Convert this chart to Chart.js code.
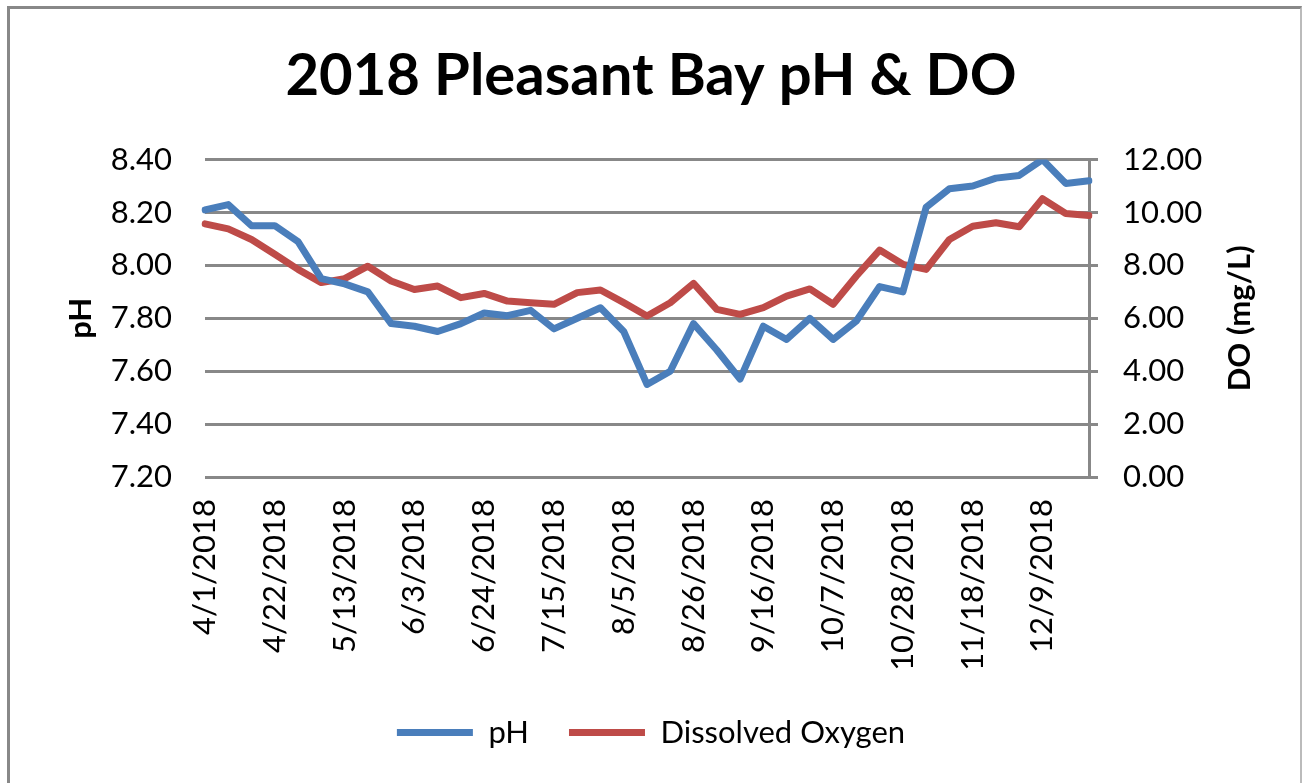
<!DOCTYPE html>
<html lang="en">
<head>
    <meta charset="UTF-8">
    <title>2018 Pleasant Bay pH &amp; DO</title>
    <style>
        body {
            margin: 0;
            padding: 0;
            background: #fff;
            overflow: hidden;
        }
        .wrap {
            position: absolute;
            left: 0;
            top: 0;
            width: 1302px;
            height: 783px;
        }
        .frame {
            position: absolute;
            left: 7px;
            top: 6px;
            width: 1290px;
            height: 820px;
            border-left: 3px solid #888;
            border-top: 3px solid #888;
            border-right: 2px solid #bbb;
            pointer-events: none;
        }
    </style>
</head>
<body>
    <div class="wrap">
        <canvas id="phChart"></canvas>
    </div>
    <div class="frame"></div>
    <script src="https://cdn.jsdelivr.net/npm/chart.js"></script>
    <script>
        const dates = [
            '4/1/2018', '4/8/2018', '4/15/2018', '4/22/2018', '4/29/2018',
            '5/6/2018', '5/13/2018', '5/20/2018', '5/27/2018',
            '6/3/2018', '6/10/2018', '6/17/2018', '6/24/2018',
            '7/1/2018', '7/8/2018', '7/15/2018', '7/22/2018', '7/29/2018',
            '8/5/2018', '8/12/2018', '8/19/2018', '8/26/2018',
            '9/2/2018', '9/9/2018', '9/16/2018', '9/23/2018', '9/30/2018',
            '10/7/2018', '10/14/2018', '10/21/2018', '10/28/2018',
            '11/4/2018', '11/11/2018', '11/18/2018', '11/25/2018',
            '12/2/2018', '12/9/2018', '12/16/2018', '12/23/2018'
        ];

        const phValues = [
            8.21, 8.23, 8.15, 8.15, 8.09, 7.95, 7.93, 7.90, 7.78,
            7.77, 7.75, 7.78, 7.82, 7.81, 7.83, 7.76, 7.80, 7.84,
            7.75, 7.55, 7.60, 7.78, 7.68, 7.57, 7.77, 7.72, 7.80,
            7.72, 7.79, 7.92, 7.90, 8.22, 8.29, 8.30, 8.33, 8.34,
            8.40, 8.31, 8.32
        ];

        const doValues = [
            9.57, 9.38, 8.98, 8.42, 7.85, 7.35, 7.50, 7.97, 7.41,
            7.09, 7.22, 6.78, 6.94, 6.65, 6.59, 6.53, 6.97, 7.07,
            6.59, 6.09, 6.59, 7.32, 6.34, 6.15, 6.40, 6.84, 7.11,
            6.53, 7.60, 8.58, 8.04, 7.85, 8.98, 9.48, 9.61, 9.46,
            10.52, 9.96, 9.89
        ];

        const phTicks = [7.2, 8.4, 0.2];   // min, max, step
        const doTicks = [0, 12, 2];

        const fontFamily = 'Lato, "Open Sans", sans-serif';

        // axis titles drawn reading bottom-to-top on both sides
        const axisTitles = {
            id: 'axisTitles',
            afterDraw(chart) {
                const ctx = chart.ctx;
                const area = chart.chartArea;
                const midY = (area.top + area.bottom) / 2;
                ctx.save();
                ctx.fillStyle = '#000';
                ctx.font = 'bold 31px ' + fontFamily;
                ctx.textAlign = 'center';
                ctx.textBaseline = 'middle';
                [['pH', chart.scales.y.left + 81], ['DO (mg/L)', chart.scales.y1.right - 62]].forEach(([text, x]) => {
                    ctx.save();
                    ctx.translate(x, midY);
                    ctx.rotate(-Math.PI / 2);
                    ctx.fillText(text, 0, 0);
                    ctx.restore();
                });
                ctx.restore();
            }
        };

        const ctx = document.getElementById('phChart').getContext('2d');
        new Chart(ctx, {
            type: 'line',
            data: {
                labels: dates,
                datasets: [{
                    label: 'pH',
                    data: phValues,
                    yAxisID: 'y',
                    borderColor: '#4a7ebb',
                    backgroundColor: '#4a7ebb',
                    borderWidth: 7,
                    borderJoinStyle: 'round',
                    borderCapStyle: 'round',
                    pointRadius: 0,
                    pointStyle: 'line',
                    tension: 0
                }, {
                    label: 'Dissolved Oxygen',
                    data: doValues,
                    yAxisID: 'y1',
                    borderColor: '#be4b48',
                    backgroundColor: '#be4b48',
                    borderWidth: 7,
                    borderJoinStyle: 'round',
                    borderCapStyle: 'round',
                    pointRadius: 0,
                    pointStyle: 'line',
                    tension: 0
                }]
            },
            options: {
                responsive: true,
                maintainAspectRatio: false,
                animation: false,
                layout: {
                    padding: { top: 0, left: 0, right: 0, bottom: 25 }
                },
                plugins: {
                    title: {
                        display: true,
                        text: '2018 Pleasant Bay pH & DO',
                        color: '#000',
                        font: { family: fontFamily, size: 58, weight: 'bold' },
                        padding: { top: 41, bottom: 49 }
                    },
                    legend: {
                        position: 'bottom',
                        labels: {
                            usePointStyle: true,
                            pointStyleWidth: 76,
                            padding: 40,
                            color: '#000',
                            font: { family: fontFamily, size: 31 }
                        }
                    },
                    tooltip: { enabled: false }
                },
                scales: {
                    x: {
                        offset: false,
                        grid: { display: false, drawTicks: false },
                        border: { display: false },
                        afterFit(scale) { scale.height = 200; },
                        ticks: {
                            autoSkip: false,
                            maxRotation: 90,
                            minRotation: 90,
                            padding: 22,
                            color: '#000',
                            font: { family: fontFamily, size: 31 },
                            callback(value, index) {
                                return index % 3 === 0 ? dates[index] : '';
                            }
                        }
                    },
                    y: {
                        position: 'left',
                        min: phTicks[0],
                        max: phTicks[1],
                        afterFit(scale) { scale.width = 205; },
                        grid: { color: '#888', lineWidth: 3, drawTicks: false },
                        border: { display: false },
                        ticks: {
                            stepSize: phTicks[2],
                            padding: 33,
                            color: '#000',
                            font: { family: fontFamily, size: 31 },
                            callback: v => v.toFixed(2)
                        }
                    },
                    y1: {
                        position: 'right',
                        min: doTicks[0],
                        max: doTicks[1],
                        afterFit(scale) { scale.width = 213; },
                        grid: { drawOnChartArea: false, color: '#888', lineWidth: 3, tickLength: 9 },
                        border: { display: true, color: '#888', width: 3 },
                        ticks: {
                            stepSize: doTicks[2],
                            padding: 25,
                            color: '#000',
                            font: { family: fontFamily, size: 31 },
                            callback: v => v.toFixed(2)
                        }
                    }
                }
            },
            plugins: [axisTitles]
        });
    </script>
</body>
</html>
